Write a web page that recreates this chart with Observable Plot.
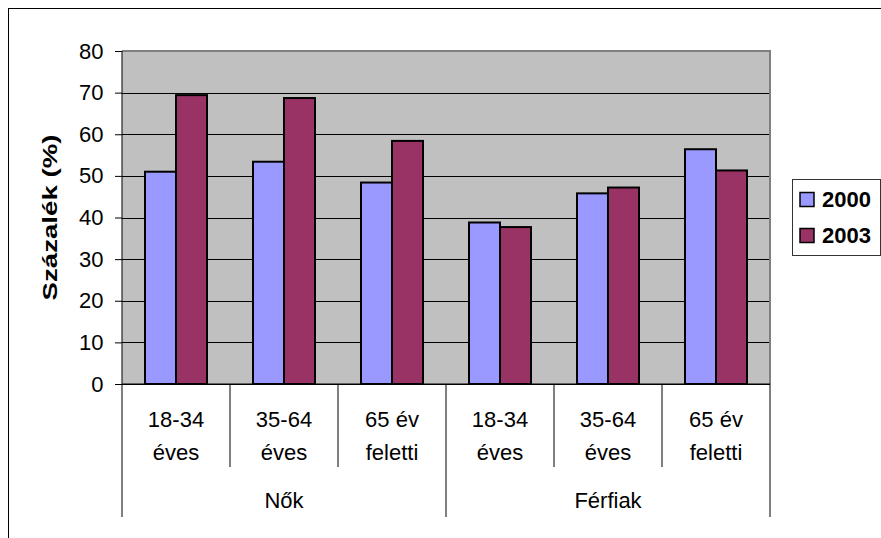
<!DOCTYPE html>
<html>
<head>
<meta charset="utf-8">
<script src="https://cdn.jsdelivr.net/npm/d3@7"></script>
<script src="https://cdn.jsdelivr.net/npm/@observablehq/plot@0.6"></script>
<style>
  html, body { margin: 0; padding: 0; background: #fff; overflow: hidden; }
  #chart { position: relative; width: 881px; height: 538px; overflow: hidden; }
  #chart svg { position: absolute; left: 0; top: 0; }
  #border { position: absolute; left: 8px; top: 8px; width: 1000px; height: 1000px; border: 1px solid #000; pointer-events: none; }
</style>
</head>
<body>
<div id="chart"><div id="border"></div></div>
<script>
// Survey share by sex and age band, 2000 vs 2003
const groups = ["Nők", "Férfiak"];
const ages = ["18-34 éves", "35-64 éves", "65 év feletti"];
const ageLines = [["18-34", "éves"], ["35-64", "éves"], ["65 év", "feletti"]];
const years = ["2000", "2003"];
const values2000 = [51.0, 53.4, 48.4, 38.8, 45.8, 56.4];
const values2003 = [69.4, 68.7, 58.4, 37.7, 47.2, 51.3];
const yTicks = [0, 10, 20, 30, 40, 50, 60, 70, 80];
const yTitle = "Százalék (%)";
const colors = ["#9999ff", "#993366"];

const FONT = "Arial, 'Liberation Sans', sans-serif";

// one facet per (group, age band)
const keys = [];
groups.forEach(g => ages.forEach(a => keys.push(g + " / " + a)));

const rows = [];
keys.forEach((k, i) => {
  rows.push({key: k, year: years[0], value: values2000[i]});
  rows.push({key: k, year: years[1], value: values2003[i]});
});

const plot = Plot.plot({
  width: 881,
  height: 538,
  marginLeft: 122,
  marginRight: 111,
  marginTop: 51,
  marginBottom: 154,
  style: {fontFamily: FONT, fontSize: "22px", color: "#000", background: "transparent", overflow: "visible"},
  fx: {domain: keys, padding: 0, axis: null},
  x: {domain: years, paddingInner: 0, paddingOuter: 0.74, axis: null},
  y: {domain: [0, 80], ticks: yTicks, tickSize: 7, tickPadding: 12, label: null},
  color: {domain: years, range: colors},
  marks: [
    Plot.ruleY(yTicks, {stroke: "#000", strokeWidth: 1, shapeRendering: "crispEdges"}),
    Plot.barY(rows, {fx: "key", x: "year", y: "value", fill: "year", stroke: "#000", strokeWidth: 2})
  ]
});

document.getElementById("chart").insertBefore(plot, document.getElementById("border"));

// Plot-area background and border, y-axis line, two-level category axis, y title and legend
const svg = d3.select(plot);
const fx = plot.scale("fx");
const y = plot.scale("y");
const y0 = y.apply(0);
const yTop = y.apply(80);
const bw = fx.bandwidth;
const edges = keys.map(k => fx.apply(k)).concat([fx.apply(keys[keys.length - 1]) + bw]);
const left = edges[0];
const right = edges[edges.length - 1];

// grey plot area, placed beneath every mark
svg.insert("rect", "g")
  .attr("x", left).attr("y", yTop)
  .attr("width", right - left).attr("height", y0 - yTop)
  .attr("fill", "#c0c0c0");

const deco = svg.append("g").attr("text-anchor", "start");
// top and right plot-area border
deco.append("line").attr("x1", left).attr("x2", right + 1).attr("y1", yTop).attr("y2", yTop)
  .attr("stroke", "#808080").attr("stroke-width", 2);
deco.append("line").attr("x1", right).attr("x2", right).attr("y1", yTop).attr("y2", y0)
  .attr("stroke", "#808080").attr("stroke-width", 2);
// y axis line
deco.append("line").attr("x1", left).attr("x2", left).attr("y1", yTop).attr("y2", y0)
  .attr("stroke", "#000").attr("stroke-width", 1);
// x axis line
deco.append("line").attr("x1", left).attr("x2", right).attr("y1", y0).attr("y2", y0)
  .attr("stroke", "#000").attr("stroke-width", 1);

// category separators: short between age bands, long between sex groups
edges.forEach((x, i) => {
  const long = i % ages.length === 0;
  deco.append("line")
    .attr("x1", x).attr("x2", x)
    .attr("y1", y0).attr("y2", y0 + (long ? 133 : 83))
    .attr("stroke", "#000").attr("stroke-width", 1);
});

// age band labels (two lines)
keys.forEach((k, i) => {
  const cx = fx.apply(k) + bw / 2;
  const lines = ageLines[i % ages.length];
  const t = deco.append("text")
    .attr("text-anchor", "middle")
    .attr("font-family", FONT).attr("font-size", 22).attr("fill", "#000");
  t.append("tspan").attr("x", cx).attr("y", y0 + 43).text(lines[0]);
  t.append("tspan").attr("x", cx).attr("y", y0 + 76).text(lines[1]);
});

// group labels
groups.forEach((g, gi) => {
  const x1 = edges[gi * ages.length];
  const x2 = edges[(gi + 1) * ages.length];
  deco.append("text")
    .attr("x", (x1 + x2) / 2).attr("y", y0 + 124)
    .attr("text-anchor", "middle")
    .attr("font-family", FONT).attr("font-size", 22).attr("fill", "#000")
    .text(g);
});

// y-axis title
deco.append("text")
  .attr("transform", `translate(49,${(yTop + y0) / 2}) rotate(-90)`)
  .attr("text-anchor", "middle")
  .attr("dominant-baseline", "central")
  .attr("textLength", 166).attr("lengthAdjust", "spacingAndGlyphs")
  .attr("font-family", FONT).attr("font-size", 21).attr("font-weight", "bold").attr("fill", "#000")
  .text(yTitle);

// legend
const color = plot.scale("color");
const lg = svg.append("g").attr("transform", "translate(792,179)").attr("text-anchor", "start");
lg.append("rect").attr("x", 0.5).attr("y", 0.5).attr("width", 88).attr("height", 76)
  .attr("fill", "#fff").attr("stroke", "#333").attr("stroke-width", 1);
years.forEach((yr, i) => {
  const row = lg.append("g").attr("transform", `translate(0,${13 + i * 36})`);
  row.append("rect").attr("x", 8).attr("y", 0.5).attr("width", 14).attr("height", 14)
    .attr("fill", color.apply(yr)).attr("stroke", "#000").attr("stroke-width", 1.5);
  row.append("text").attr("x", 30).attr("y", 14.5)
    .attr("text-anchor", "start")
    .attr("font-family", FONT).attr("font-size", 22).attr("font-weight", "bold").attr("fill", "#000")
    .text(yr);
});
</script>
</body>
</html>
